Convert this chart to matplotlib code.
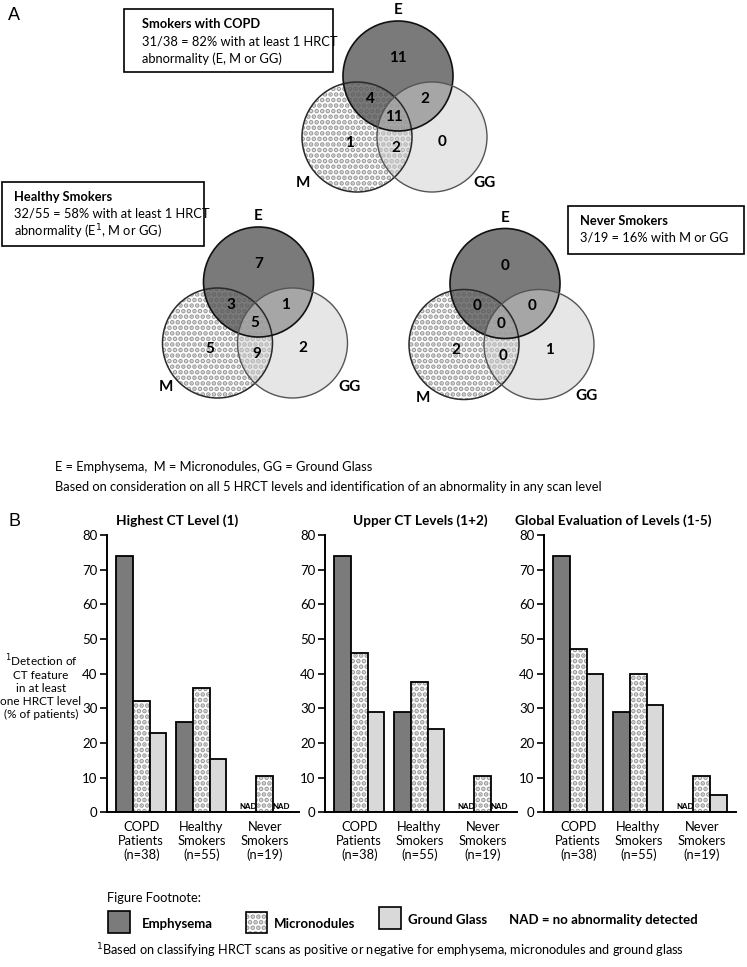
import matplotlib
matplotlib.use("Agg")
import matplotlib.pyplot as plt
from matplotlib.patches import Circle, Rectangle

plt.rcParams['font.family'] = ['Lato', 'DejaVu Sans']
plt.rcParams['hatch.linewidth'] = 2.4
plt.rcParams['mathtext.fontset'] = 'dejavusans'

# ---- data ----
venn_regions = ['E', 'E+M', 'E+GG', 'E+M+GG', 'M', 'M+GG', 'GG']
copd_venn = [11, 4, 2, 11, 1, 2, 0]
healthy_venn = [7, 3, 1, 5, 5, 9, 2]
never_venn = [0, 0, 0, 0, 2, 0, 1]

groups = ['COPD\nPatients\n(n=38)', 'Healthy\nSmokers\n(n=55)', 'Never\nSmokers\n(n=19)']
panel_titles = ['Highest CT Level (1)', 'Upper CT Levels (1+2)',
                'Global Evaluation of Levels (1-5)']
emphysema = [[74, 26, 0], [74, 29, 0], [74, 29, 0]]
micronodules = [[32, 36, 10.5], [46, 37.5, 10.5], [47, 40, 10.5]]
ground_glass = [[23, 15.5, 0], [29, 24, 0], [40, 31, 5]]
yticks = [0, 10, 20, 30, 40, 50, 60, 70, 80]

# ---- styles ----
E_COL = '#7b7b7b'
GG_COL = '#d9d9d9'
DOT = '#9c9c9c'
R = 55
M_OFF = (-41, 61)
G_OFF = (34, 61)
REGION_OFF = [(0, -18), (-28, 23), (27, 23), (-4, 41), (-49, 67), (-2, 72), (44, 66)]

fig = plt.figure(figsize=(7.47, 9.67), dpi=100)

# overlay axes in pixel coordinates for panel A and the free text
ax0 = fig.add_axes([0, 0, 1, 1])
ax0.set_xlim(0, 747)
ax0.set_ylim(967, 0)
ax0.axis('off')


def draw_venn(ax, cx, cy, counts, m_lab, g_lab):
    mx, my = cx + M_OFF[0], cy + M_OFF[1]
    gx, gy = cx + G_OFF[0], cy + G_OFF[1]
    ax.add_patch(Circle((mx, my), R, facecolor='white', edgecolor=DOT,
                        hatch='...', lw=0))
    ax.add_patch(Circle((cx, cy), R, facecolor=(0.35, 0.35, 0.35, 0.8),
                        edgecolor='none'))
    ax.add_patch(Circle((gx, gy), R, facecolor=(0.81, 0.81, 0.81, 0.52),
                        edgecolor='none'))
    ax.add_patch(Circle((mx, my), R, fill=False, edgecolor='#2a2a2a', lw=1.1))
    ax.add_patch(Circle((cx, cy), R, fill=False, edgecolor='#111111', lw=1.2))
    ax.add_patch(Circle((gx, gy), R, fill=False, edgecolor='#555555', lw=1.0))
    for (dx, dy), n in zip(REGION_OFF, counts):
        ax.text(cx + dx, cy + dy, str(n), ha='center', va='center',
                fontsize=11, fontweight='bold')
    ax.text(cx, cy - 66, 'E', ha='center', va='center', fontsize=11, fontweight='bold')
    ax.text(cx + m_lab[0], cy + m_lab[1], 'M', ha='center', va='center',
            fontsize=11, fontweight='bold')
    ax.text(cx + g_lab[0], cy + g_lab[1], 'GG', ha='center', va='center',
            fontsize=11, fontweight='bold')


def text_box(ax, x0, y0, x1, y1, pad, title, lines):
    ax.add_patch(Rectangle((x0, y0), x1 - x0, y1 - y0, facecolor='white',
                           edgecolor='black', lw=1.2))
    ax.text(x0 + pad, y0 + 15, title, ha='left', va='center', fontsize=9.3,
            fontweight='bold')
    for i, ln in enumerate(lines):
        ax.text(x0 + pad, y0 + 32 + 18 * i, ln, ha='left', va='center', fontsize=9.3)


ax0.text(8, 16, 'A', ha='left', va='center', fontsize=13, family='Liberation Sans')
draw_venn(ax0, 398, 76, copd_venn, (-95, 107), (87, 107))
draw_venn(ax0, 258.5, 282, healthy_venn, (-93, 105), (91, 105))
draw_venn(ax0, 505, 283.5, never_venn, (-82, 115), (82, 112))

text_box(ax0, 124, 9, 333, 72, 18, 'Smokers with COPD',
         ['31/38 = 82% with at least 1 HRCT', 'abnormality (E, M or GG)'])
text_box(ax0, 2, 182, 204, 246, 12, 'Healthy Smokers',
         ['32/55 = 58% with at least 1 HRCT', r'abnormality (E$^1$, M or GG)'])
text_box(ax0, 568, 206, 744, 254, 12, 'Never Smokers', ['3/19 = 16% with M or GG'])

ax0.text(55, 467, 'E = Emphysema,  M = Micronodules, GG = Ground Glass',
         ha='left', va='center', fontsize=9.3)
ax0.text(55, 487, 'Based on consideration on all 5 HRCT levels and identification '
         'of an abnormality in any scan level', ha='left', va='center', fontsize=9.3)
ax0.text(8, 521, 'B', ha='left', va='center', fontsize=13, family='Liberation Sans')

# ---- panel B bar charts ----
lefts = [107, 325, 544]
centers = [2.05, 5.65, 9.45]
for k in range(3):
    ax = fig.add_axes([lefts[k] / 747, (967 - 812.3) / 967, 192 / 747, 277.3 / 967])
    ax.patch.set_alpha(0)
    xs = centers
    xe = [c - 1 for c in xs]
    xg = [c + 1 for c in xs]
    ax.bar(xe, emphysema[k], width=1, color=E_COL, edgecolor='black', lw=1.3)
    ax.bar(xs, micronodules[k], width=1, color='white', edgecolor=DOT, hatch='...', lw=0)
    ax.bar(xs, micronodules[k], width=1, fill=False, edgecolor='black', lw=1.3)
    ax.bar(xg, ground_glass[k], width=1, color=GG_COL, edgecolor='black', lw=1.3)
    for series, xpos in ((emphysema[k], xe), (micronodules[k], xs), (ground_glass[k], xg)):
        for v, x in zip(series, xpos):
            if v == 0:
                ax.text(x, 0.7, 'NAD', ha='center', va='bottom', fontsize=5.6,
                        fontweight='black')
    ax.set_xlim(0, 11.5)
    ax.set_ylim(0, 80)
    ax.set_yticks(yticks)
    ax.set_xticks(xs)
    ax.set_xticklabels(groups, fontsize=9.3, linespacing=1.2)
    ax.tick_params(axis='x', length=0, pad=6)
    ax.tick_params(axis='y', length=5, width=1.2, labelsize=9.5, pad=2)
    for s in ('top', 'right'):
        ax.spines[s].set_visible(False)
    for s in ('left', 'bottom'):
        ax.spines[s].set_linewidth(1.4)
    ax0.text(lefts[k] + [70, 95, 69][k], 521, panel_titles[k], ha='center', va='center',
             fontsize=9.8, fontweight='bold')

ax0.text(41, 686, '$^1$Detection of\nCT feature\nin at least\none HRCT level\n(% of patients)',
         ha='center', va='center', fontsize=8.5, linespacing=1.2)

# ---- footnote legend ----
ax0.text(107, 898, 'Figure Footnote:', ha='left', va='center', fontsize=9.3)
ax0.add_patch(Rectangle((108, 911), 22, 22, facecolor=E_COL, edgecolor='black', lw=1.2))
ax0.add_patch(Rectangle((246, 912), 21, 21, facecolor='white', edgecolor=DOT,
                        hatch='...', lw=0))
ax0.add_patch(Rectangle((246, 912), 21, 21, fill=False, edgecolor='black', lw=1.2))
ax0.add_patch(Rectangle((379, 907), 22, 22, facecolor=GG_COL, edgecolor='black', lw=1.2))
ax0.text(142, 924, 'Emphysema', ha='left', va='center', fontsize=9.5, fontweight='bold')
ax0.text(274, 924, 'Micronodules', ha='left', va='center', fontsize=9.5, fontweight='bold')
ax0.text(408, 920, 'Ground Glass', ha='left', va='center', fontsize=9.5, fontweight='bold')
ax0.text(509, 920, 'NAD = no abnormality detected', ha='left', va='center',
         fontsize=9.5, fontweight='bold')
ax0.text(96, 951, '$^1$Based on classifying HRCT scans as positive or negative for '
         'emphysema, micronodules and ground glass', ha='left', va='center', fontsize=9.2)

fig.savefig('out.png', dpi=100)
